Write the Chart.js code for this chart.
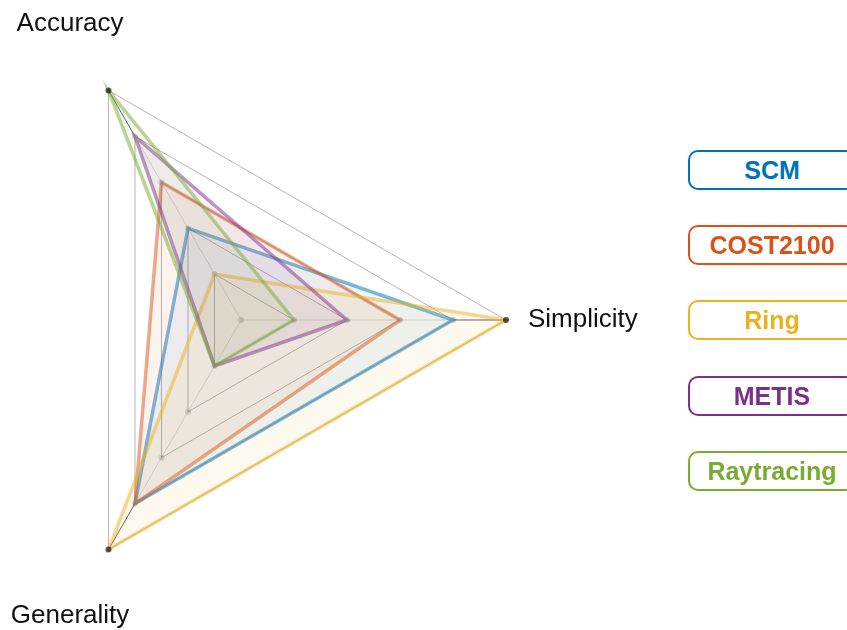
<!DOCTYPE html>
<html>
<head>
<meta charset="utf-8">
<script src="https://cdn.jsdelivr.net/npm/chart.js@4/dist/chart.umd.min.js"></script>
<style>
  body { margin: 0; background: #fff; }
  #wrap { position: relative; width: 847px; height: 630px; overflow: hidden; }
  #radar { position: absolute; left: -24px; top: 0; }
  .leyenda {
    position: absolute; left: 688px; width: 164px; height: 36px;
    border: 2.5px solid; border-radius: 10px; box-sizing: content-box;
    font: bold 25px "Liberation Sans", Arial, sans-serif;
    text-align: center; line-height: 36px; background: #fff;
  }
</style>
</head>
<body>
<div id="wrap">
  <canvas id="radar" width="871" height="630"></canvas>
</div>
<script>
// ejes del radar (en sentido horario empezando a la derecha)
const ejes = ['Simplicity', 'Generality', 'Accuracy'];
const niveles = [0, 1, 2, 3, 4, 5];

// valores por modelo
const scm = [4, 4, 2];
const cost2100 = [3, 4, 3];
const ring = [5, 5, 1];
const metis = [2, 1, 4];
const raytracing = [1, 1, 5];

const nombres = ['SCM', 'COST2100', 'Ring', 'METIS', 'Raytracing'];
const colores = ['0,114,189', '217,83,25', '237,177,32', '126,47,142', '119,172,48'];
const series = [scm, cost2100, ring, metis, raytracing];

// etiquetas de los ejes, mas afuera que el triangulo
const etiquetasEjes = {
  id: 'etiquetasEjes',
  afterDraw(chart) {
    const r = chart.scales.r;
    const ctx = chart.ctx;
    ctx.save();
    ctx.font = '26px "Liberation Sans", Arial, sans-serif';
    ctx.fillStyle = '#111';
    ctx.textAlign = 'center';
    ctx.textBaseline = 'middle';
    ejes.forEach((t, i) => {
      const p = r.getPointPosition(i, r.drawingArea * 1.29);
      ctx.fillText(t, p.x, p.y);
    });
    ctx.restore();
  }
};

// tramo exterior de los ejes mas oscuro
const ejesOscuros = {
  id: 'ejesOscuros',
  beforeDatasetsDraw(chart) {
    const r = chart.scales.r;
    const ctx = chart.ctx;
    ctx.save();
    ctx.strokeStyle = 'rgba(0,0,0,0.55)';
    ctx.lineWidth = 1;
    ejes.forEach((t, i) => {
      const a = r.getPointPositionForValue(i, niveles[niveles.length - 2]);
      const b = r.getPointPositionForValue(i, niveles[niveles.length - 1]);
      ctx.beginPath();
      ctx.moveTo(a.x, a.y);
      ctx.lineTo(b.x, b.y);
      ctx.stroke();
    });
    ctx.restore();
  }
};

// puntitos en cada nivel de cada eje
const puntosNiveles = {
  id: 'puntosNiveles',
  afterDatasetsDraw(chart) {
    const r = chart.scales.r;
    const ctx = chart.ctx;
    ctx.save();
    niveles.forEach((v, k) => {
      ctx.fillStyle = k === niveles.length - 1 ? 'rgba(30,30,30,0.75)' : 'rgba(140,140,140,0.35)';
      ejes.forEach((t, i) => {
        if (v === 0 && i > 0) return;
        const p = r.getPointPositionForValue(i, v);
        ctx.beginPath();
        ctx.arc(p.x, p.y, 3, 0, Math.PI * 2);
        ctx.fill();
      });
    });
    ctx.restore();
  }
};

new Chart(document.getElementById('radar'), {
  type: 'radar',
  data: {
    labels: ejes,
    datasets: series.map((d, i) => ({
      label: nombres[i],
      data: d,
      order: series.length - 1 - i,
      fill: true,
      backgroundColor: 'rgba(' + colores[i] + ',0.07)',
      borderColor: 'rgba(' + colores[i] + ',0.5)',
      borderWidth: 3.5,
      borderJoinStyle: 'miter',
      pointRadius: 0
    }))
  },
  options: {
    responsive: false,
    animation: false,
    layout: { padding: { left: 0, right: 341, top: 55, bottom: 45 } },
    plugins: { legend: { display: false }, tooltip: { enabled: false } },
    scales: {
      r: {
        min: niveles[0],
        max: niveles[niveles.length - 1],
        startAngle: 90,
        ticks: { display: false, stepSize: 1 },
        pointLabels: { display: false },
        grid: { color: '#b4b4b4', lineWidth: 1 },
        angleLines: { color: 'rgba(0,0,0,0.15)', lineWidth: 1 }
      }
    }
  },
  plugins: [etiquetasEjes, ejesOscuros, puntosNiveles]
});

// leyenda con cajas redondeadas
const wrap = document.getElementById('wrap');
nombres.forEach((n, i) => {
  const div = document.createElement('div');
  div.className = 'leyenda';
  div.textContent = n;
  div.style.top = (150 + i * 75.2) + 'px';
  div.style.color = 'rgb(' + colores[i] + ')';
  div.style.borderColor = 'rgb(' + colores[i] + ')';
  wrap.appendChild(div);
});
</script>
</body>
</html>
